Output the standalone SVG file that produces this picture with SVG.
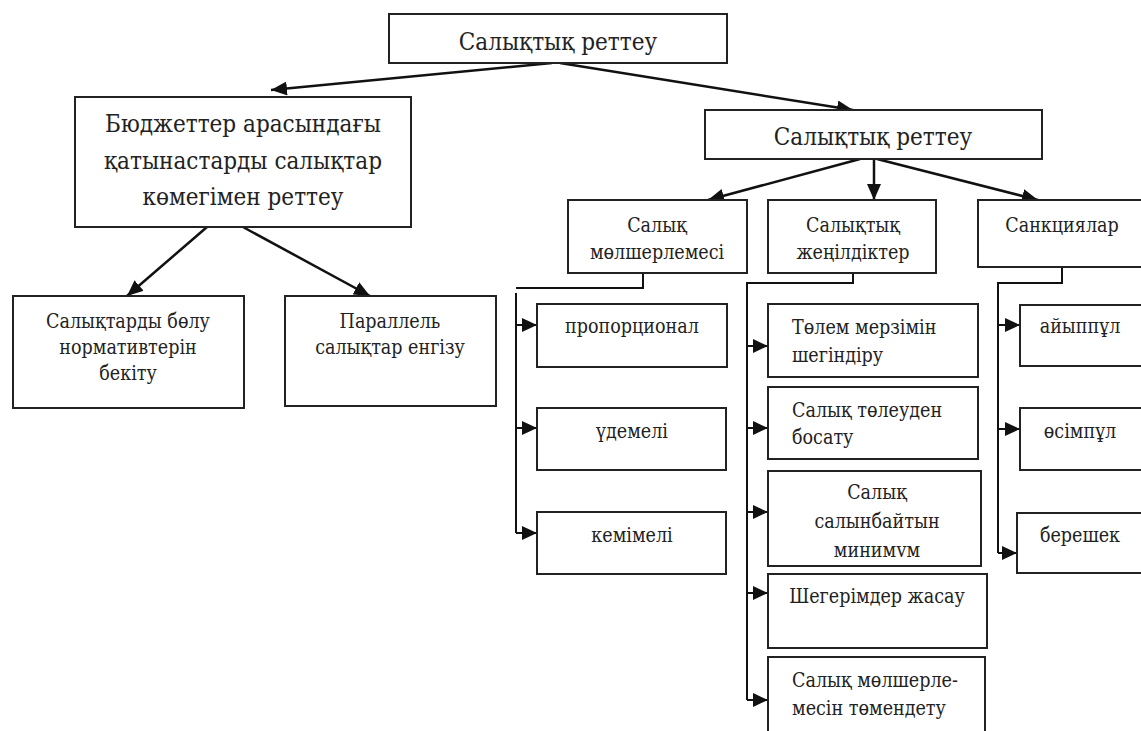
<svg xmlns="http://www.w3.org/2000/svg" width="1141" height="731" viewBox="0 0 1141 731" font-family="DejaVu Serif Condensed, DejaVu Serif, serif">
<style>
.box{fill:#fff;stroke:#222;stroke-width:2}
.t{fill:#222}
.big{font-size:24px}
.sm{font-size:19.5px}
.c{text-anchor:middle}
.ln{fill:none;stroke:#111;stroke-width:2.5}
.br{fill:none;stroke:#111;stroke-width:2}
</style>
<defs>
<marker id="ah" markerUnits="userSpaceOnUse" markerWidth="18" markerHeight="14" refX="16" refY="7" orient="auto">
<path d="M0,0 L16,7 L0,14 Z" fill="#111"/>
</marker>
<marker id="ahs" markerUnits="userSpaceOnUse" markerWidth="16" markerHeight="14" refX="15" refY="7" orient="auto">
<path d="M0,0 L15,7 L0,14 Z" fill="#111"/>
</marker>
<clipPath id="clipMin"><rect x="768" y="471" width="214" height="86"/></clipPath>
</defs>
<rect width="1141" height="731" fill="#fff"/>

<g id="connectors">
<line class="ln" x1="552" y1="63" x2="271" y2="90" marker-end="url(#ah)"/>
<line class="ln" x1="560" y1="63" x2="853" y2="110" marker-end="url(#ah)"/>
<line class="ln" x1="207" y1="227" x2="127" y2="296" marker-end="url(#ah)"/>
<line class="ln" x1="243" y1="227" x2="370" y2="296" marker-end="url(#ah)"/>
<line class="ln" x1="860" y1="159" x2="708" y2="200" marker-end="url(#ah)"/>
<line class="ln" x1="874" y1="159" x2="874" y2="200" marker-end="url(#ah)"/>
<line class="ln" x1="877" y1="159" x2="1038" y2="200" marker-end="url(#ah)"/>
<path class="br" d="M643,273 L643,288 L516,288"/>
<path class="br" d="M516,293 L516,533"/>
<line class="br" x1="516" y1="325" x2="537" y2="325" marker-end="url(#ahs)"/>
<line class="br" x1="516" y1="428" x2="537" y2="428" marker-end="url(#ahs)"/>
<line class="br" x1="516" y1="533" x2="537" y2="533" marker-end="url(#ahs)"/>
<path class="br" d="M853,273 L853,283 L747,283 L747,700"/>
<line class="br" x1="747" y1="346" x2="768" y2="346" marker-end="url(#ahs)"/>
<line class="br" x1="747" y1="428" x2="768" y2="428" marker-end="url(#ahs)"/>
<line class="br" x1="747" y1="512" x2="768" y2="512" marker-end="url(#ahs)"/>
<line class="br" x1="747" y1="593" x2="768" y2="593" marker-end="url(#ahs)"/>
<line class="br" x1="747" y1="700" x2="768" y2="700" marker-end="url(#ahs)"/>
<path class="br" d="M1062,267 L1062,283 L998,283 L998,553"/>
<line class="br" x1="998" y1="325" x2="1020" y2="325" marker-end="url(#ahs)"/>
<line class="br" x1="998" y1="429" x2="1020" y2="429" marker-end="url(#ahs)"/>
<line class="br" x1="998" y1="553" x2="1017" y2="553" marker-end="url(#ahs)"/>
</g>

<g id="root">
<rect class="box" x="389" y="14" width="338" height="49"/>
<text class="t big c" x="558" y="50">Салықтық реттеу</text>
</g>

<g id="budget">
<rect class="box" x="75" y="97" width="336" height="130"/>
<text class="t big c" x="243" y="132">Бюджеттер арасындағы</text>
<text class="t big c" x="243" y="169">қатынастарды салықтар</text>
<text class="t big c" x="243" y="205">көмегімен реттеу</text>
</g>

<g id="regulation">
<rect class="box" x="705" y="110" width="337" height="49"/>
<text class="t big c" x="873" y="145">Салықтық реттеу</text>
</g>

<g id="distribution">
<rect class="box" x="13" y="296" width="231" height="112"/>
<text class="t sm c" x="128" y="328">Салықтарды бөлу</text>
<text class="t sm c" x="128" y="354">нормативтерін</text>
<text class="t sm c" x="128" y="380">бекіту</text>
</g>

<g id="parallel">
<rect class="box" x="285" y="296" width="211" height="110"/>
<text class="t sm c" x="390" y="328">Параллель</text>
<text class="t sm c" x="390" y="354">салықтар енгізу</text>
</g>

<g id="rate">
<rect class="box" x="568" y="200" width="179" height="73"/>
<text class="t sm c" x="657" y="232">Салық</text>
<text class="t sm c" x="657" y="259">мөлшерлемесі</text>
</g>

<g id="benefits">
<rect class="box" x="768" y="200" width="168" height="73"/>
<text class="t sm c" x="853" y="232">Салықтық</text>
<text class="t sm c" x="853" y="259">жеңілдіктер</text>
</g>

<g id="sanctions">
<rect class="box" x="978" y="200" width="175" height="67"/>
<text class="t sm c" x="1062" y="232">Санкциялар</text>
</g>

<g id="proportional">
<rect class="box" x="537" y="304" width="190" height="63"/>
<text class="t sm c" x="632" y="333">пропорционал</text>
</g>
<g id="progressive">
<rect class="box" x="537" y="408" width="189" height="62"/>
<text class="t sm c" x="632" y="438">үдемелі</text>
</g>
<g id="regressive">
<rect class="box" x="537" y="512" width="189" height="62"/>
<text class="t sm c" x="632" y="542">кемімелі</text>
</g>

<g id="deferral">
<rect class="box" x="768" y="304" width="210" height="73"/>
<text class="t sm" x="792" y="334">Төлем мерзімін</text>
<text class="t sm" x="792" y="362">шегіндіру</text>
</g>
<g id="exemption">
<rect class="box" x="768" y="387" width="210" height="72"/>
<text class="t sm" x="792" y="417">Салық төлеуден</text>
<text class="t sm" x="792" y="444">босату</text>
</g>
<g id="minimum">
<rect class="box" x="768" y="471" width="213" height="95"/>
<text class="t sm c" x="877" y="499">Салық</text>
<text class="t sm c" x="877" y="528">салынбайтын</text>
<text class="t sm c" x="877" y="557" clip-path="url(#clipMin)">минимум</text>
</g>
<g id="deductions">
<rect class="box" x="768" y="574" width="219" height="74"/>
<text class="t sm c" x="877" y="603">Шегерімдер жасау</text>
</g>
<g id="reduction">
<rect class="box" x="768" y="657" width="217" height="90"/>
<text class="t sm" x="792" y="687">Салық мөлшерле-</text>
<text class="t sm" x="792" y="715">месін төмендету</text>
</g>

<g id="fine">
<rect class="box" x="1020" y="305" width="135" height="61"/>
<text class="t sm c" x="1080" y="333">айыппұл</text>
</g>
<g id="penalty">
<rect class="box" x="1020" y="408" width="135" height="62"/>
<text class="t sm c" x="1080" y="438">өсімпұл</text>
</g>
<g id="arrears">
<rect class="box" x="1017" y="513" width="138" height="60"/>
<text class="t sm c" x="1080" y="542">берешек</text>
</g>
</svg>
